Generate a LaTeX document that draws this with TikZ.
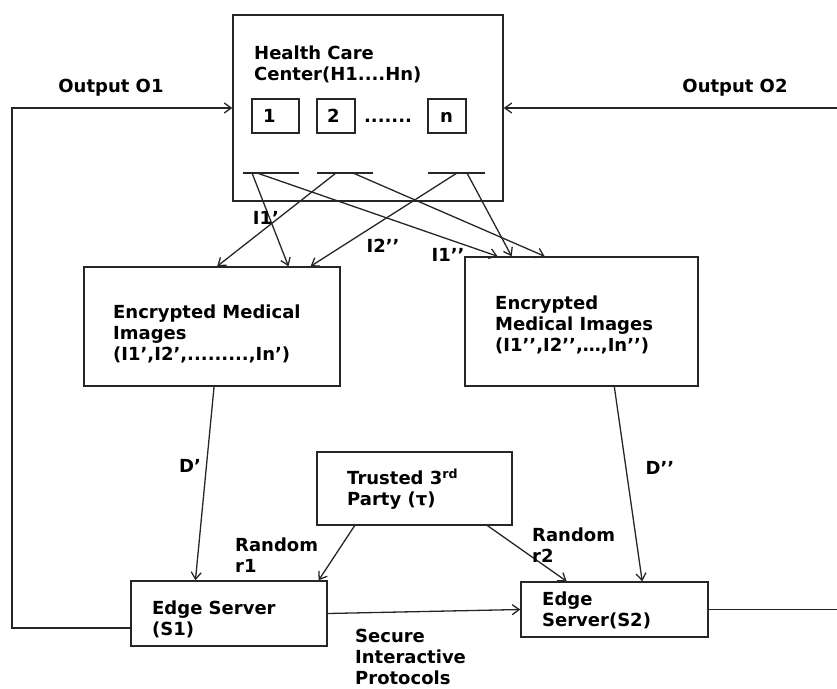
\documentclass[tikz,border=0pt]{standalone}
\usepackage{fontspec}
\setmainfont{DejaVu Sans}
\usetikzlibrary{arrows.meta,calc}

\begin{document}
\begin{tikzpicture}[x=1pt,y=-1pt,
    every node/.style={font=\fontsize{18}{21}\selectfont\bfseries},
    box/.style={draw=black!85, line width=1.4pt, inner sep=0pt},
    txt/.style={anchor=west, align=left, inner sep=0pt},
    wire/.style={draw=black!85, line width=1.3pt},
    link/.style={wire, -{Straight Barb[length=7pt,width=10pt]}}
  ]
  \useasboundingbox (0,0) rectangle (837,688);

  \node[box, minimum width=270pt, minimum height=186pt] (hcc) at (368,108) {};
  \node[txt] (hcctxt) at (254,64) {Health Care\\Center(H1....Hn)};
  \node[box, minimum width=47pt, minimum height=34pt] (h1) at (275.5,116) {};
  \node[box, minimum width=38pt, minimum height=34pt] (h2) at (336,116) {};
  \node[box, minimum width=38pt, minimum height=34pt] (hn) at (447,116) {};
  \node[txt] (h1txt) at (263,116) {1};
  \node[txt] (h2txt) at (327,116) {2};
  \node[txt] (hntxt) at (440,117) {n};
  \node[anchor=base] (hdots) at (388,122) {.......};

  \node[box, minimum width=256pt, minimum height=119pt] (encA) at (212,326.5) {};
  \node[txt] (encAtxt) at (113,334) {Encrypted Medical\\Images\\(I1’,I2’,.........,In’)};
  \node[box, minimum width=233pt, minimum height=129pt] (encB) at (581.5,321.5) {};
  \node[txt] (encBtxt) at (495,325) {Encrypted\\Medical Images\\(I1’’,I2’’,…,In’’)};
  \node[box, minimum width=195pt, minimum height=73pt] (tp) at (414.5,488.5) {};
  \node[txt] (tptxt) at (347,489) {Trusted 3\textsuperscript{rd}\\Party (τ)};
  \node[box, minimum width=196pt, minimum height=65pt] (s1) at (229,613.5) {};
  \node[txt] (s1txt) at (152,619) {Edge Server\\(S1)};
  \node[box, minimum width=187pt, minimum height=55pt] (s2) at (614.5,609.5) {};
  \node[txt] (s2txt) at (542,610) {Edge\\Server(S2)};

  \foreach \i/\a/\b in {1/243/299, 2/317/373, 3/428/485} {
    \coordinate (g\i a) at (\a,173);
    \coordinate (g\i b) at (\b,173);
    \draw[wire] (g\i a) -- (g\i b);
  }
  \coordinate (p1) at (252,173);
  \coordinate (p2) at (257,173);
  \coordinate (p3) at (336,173);
  \coordinate (p4) at (353,173);
  \coordinate (p5) at (457,173);
  \coordinate (p6) at (467,173);
  \foreach \p/\n/\f in {p1/encA/0.797, p3/encA/0.52, p5/encA/0.883,
                        p2/encB/0.142, p4/encB/0.343, p6/encB/0.202}
    \draw[link] (\p) -- ($(\n.north west)!\f!(\n.north east)$);

  \node (iA) at (266,218) {I1’};
  \node (iB) at (383,246) {I2’’};
  \node (iC) at (448,255) {I1’’};

  \draw[link] ($(encA.south west)!0.508!(encA.south east)$) -- ($(s1.north west)!0.33!(s1.north east)$);
  \draw[link] ($(encB.south west)!0.64!(encB.south east)$) -- ($(s2.north west)!0.647!(s2.north east)$);
  \draw[link] ($(tp.south west)!0.195!(tp.south east)$) -- ($(s1.north west)!0.954!(s1.north east)$);
  \draw[link] ($(tp.south west)!0.872!(tp.south east)$) -- ($(s2.north west)!0.246!(s2.north east)$);
  \draw[link] (s1.east) -- (s2.west);

  \node (dA) at (190,466) {D’};
  \node (dB) at (660,468) {D’’};
  \node[txt] (rA) at (235,555) {Random\\r1};
  \node[txt] (rB) at (532,545) {Random\\r2};
  \node[txt] (sip) at (355,657) {Secure\\Interactive\\Protocols};

  \coordinate (o1) at (12,108);
  \coordinate (o2) at (842,108);
  \draw[link] ($(s1.north west)!0.72!(s1.south west)$) -| (o1) -- (hcc.west);
  \draw[link] (s2.east) -| (o2) -- (hcc.east);
  \node (out1) at (111,88) {Output O1};
  \node (out2) at (735,88) {Output O2};
\end{tikzpicture}
\end{document}
